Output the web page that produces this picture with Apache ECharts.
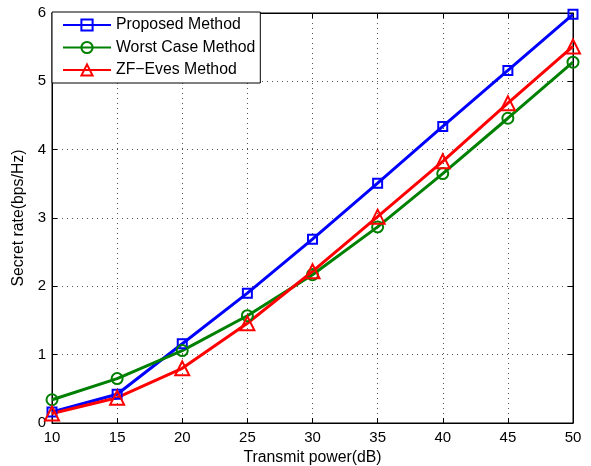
<!DOCTYPE html>
<html><head><meta charset="utf-8">
<script src="https://cdn.jsdelivr.net/npm/echarts@6/dist/echarts.min.js"></script>
<style>html,body{margin:0;padding:0;background:#fff}#c{width:591px;height:466px}</style>
</head><body><div id="c"></div>
<script>
var power = [10, 15, 20, 25, 30, 35, 40, 45, 50];
var proposed = [0.16, 0.42, 1.16, 1.90, 2.69, 3.51, 4.34, 5.16, 5.98];
var worstCase = [0.34, 0.65, 1.06, 1.57, 2.17, 2.87, 3.65, 4.46, 5.28];
var zfEves = [0.14, 0.37, 0.80, 1.46, 2.22, 3.02, 3.83, 4.68, 5.51];
var seriesNames = ['Proposed Method', 'Worst Case Method', 'ZF\u2212Eves Method'];

function pairs(ys){ return power.map(function(x,i){ return [x, ys[i]]; }); }
var font = 'Liberation Sans, Arial, Helvetica, sans-serif';
var chart = echarts.init(document.getElementById('c'));
function mk(name, data, color, symbol, size){
  return {
    name: name, type: 'line', data: pairs(data), symbol: symbol, symbolSize: size,
    showAllSymbol: true,
    lineStyle: {color: color, width: 3},
    itemStyle: {color: 'rgba(0,0,0,0)', borderColor: color, borderWidth: 2},
    emphasis: {disabled: true}, animation: false, z: 3
  };
}
var grid = {left: 52, right: 18, top: 13, bottom: 43, containLabel: false, outerBoundsMode: 'none',
  show: true, borderColor: '#000', borderWidth: 1, backgroundColor: '#fff'};
var splitLine = {show: true, lineStyle: {color: '#555', type: [1, 4], width: 1}};
chart.setOption({
  animation: false,
  backgroundColor: '#fff',
  grid: grid,
  legend: {
    orient: 'vertical', left: 52, top: 12,
    data: seriesNames,
    padding: [5, 5, 5, 10],
    itemWidth: 48, itemHeight: 14, itemGap: 6.5,
    borderColor: '#000', borderWidth: 1, borderRadius: 0, backgroundColor: '#fff',
    textStyle: {fontFamily: font, fontSize: 15.8, color: '#000'},
    z: 10
  },
  xAxis: [{
    type: 'value', min: 10, max: 50, interval: 5,
    name: 'Transmit power(dB)', nameLocation: 'middle', nameGap: 27,
    nameTextStyle: {fontFamily: font, fontSize: 15.8, color: '#000'},
    axisLine: {show: true, onZero: false, lineStyle: {color: '#000', width: 1}},
    axisTick: {show: true, inside: true, length: 5, lineStyle: {color: '#000'}},
    axisLabel: {fontFamily: font, fontSize: 15, color: '#000', margin: 7},
    splitLine: splitLine
  }, {
    type: 'value', position: 'top', min: 10, max: 50, interval: 5,
    axisLine: {show: true, onZero: false, lineStyle: {color: '#000', width: 1}},
    axisTick: {show: true, inside: true, length: 5, lineStyle: {color: '#000'}},
    axisLabel: {show: false}, splitLine: {show: false}
  }],
  yAxis: [{
    type: 'value', min: 0, max: 6, interval: 1,
    name: 'Secret rate(bps/Hz)', nameLocation: 'middle', nameGap: 19,
    nameTextStyle: {fontFamily: font, fontSize: 15.8, color: '#000'},
    axisLine: {show: true, onZero: false, lineStyle: {color: '#000', width: 1}},
    axisTick: {show: true, inside: true, length: 5, lineStyle: {color: '#000'}},
    axisLabel: {fontFamily: font, fontSize: 15, color: '#000', margin: 6},
    splitLine: splitLine
  }, {
    type: 'value', position: 'right', min: 0, max: 6, interval: 1,
    axisLine: {show: true, onZero: false, lineStyle: {color: '#000', width: 1}},
    axisTick: {show: true, inside: true, length: 5, lineStyle: {color: '#000'}},
    axisLabel: {show: false}, splitLine: {show: false}
  }],
  series: [
    mk(seriesNames[0], proposed, '#0000ff', 'rect', 9),
    mk(seriesNames[1], worstCase, '#008000', 'circle', 11),
    mk(seriesNames[2], zfEves, '#ff0000', 'triangle', 14)
  ]
});
</script></body></html>
